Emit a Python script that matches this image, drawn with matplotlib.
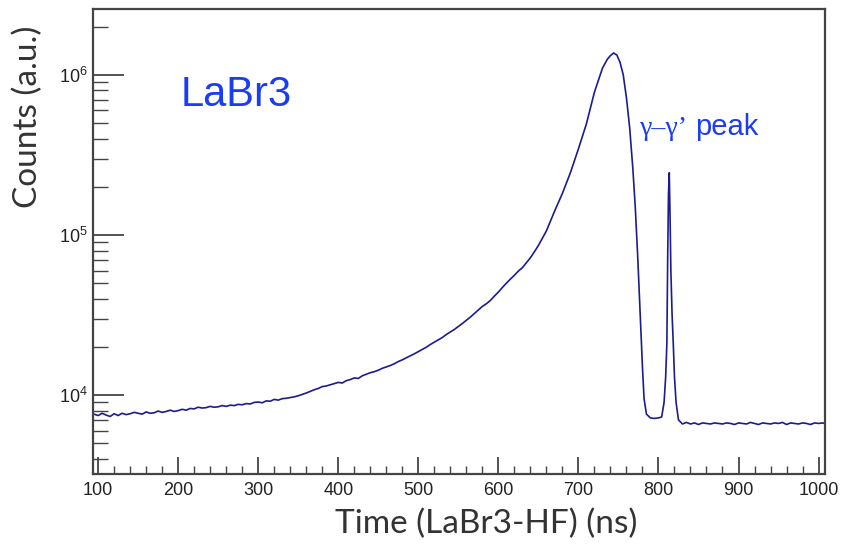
import numpy as np
import matplotlib
matplotlib.use("Agg")
import matplotlib.pyplot as plt
from matplotlib.ticker import LogLocator, MultipleLocator, NullFormatter

# time (ns) and counts
time_ns = [95, 100, 105, 110, 115, 120, 125, 130, 135, 140, 145, 150, 155, 160, 165, 170,
           175, 180, 185, 190, 195, 200, 205, 210, 215, 220, 225, 230, 235, 240, 245, 250,
           255, 260, 265, 270, 275, 280, 285, 290, 295, 300, 305, 310, 315, 320, 325, 330,
           335, 340, 345, 350, 355, 360, 365, 370, 375, 380, 385, 390, 395, 400, 405, 410,
           415, 420, 425, 430, 435, 440, 445, 450, 455, 460, 465, 470, 475, 480, 485, 490,
           495, 500, 505, 510, 515, 520, 525, 530, 535, 540, 545, 550, 555, 560, 565, 570,
           575, 580, 585, 590, 595, 600, 605, 610, 615, 620, 625, 630, 635, 640, 645, 650,
           660, 670, 680, 690, 700, 710, 720, 730, 736, 740,
           744, 748, 752, 756, 760, 764, 768, 771, 774, 777, 780, 782, 785, 790,
           795, 800, 804, 807, 809, 810.5, 811.5, 812.5, 813.5, 814.5, 815.5, 817,
           818.5, 820, 822, 825, 830, 835, 840, 845, 850, 855, 860, 865, 870, 875,
           880, 885, 890, 895, 900, 905, 910, 915, 920, 925, 930, 935, 940, 945,
           950, 955, 960, 965, 970, 975, 980, 985, 990, 995, 1000, 1005, 1008]
counts = [7600, 7450, 7700, 7500, 7350, 7650, 7450, 7700, 7550, 7650, 7800, 7700, 7600, 7850, 7700, 7750,
          7950, 7800, 7900, 8050, 7900, 8000, 8150, 8050, 8250, 8200, 8400, 8300, 8350, 8500, 8400, 8450,
          8600, 8500, 8650, 8600, 8750, 8700, 8850, 8800, 9000, 9050, 8950, 9200, 9150, 9400, 9300, 9500,
          9550, 9650, 9750, 9900, 10100, 10300, 10550, 10800, 11000, 11300, 11400, 11600, 11800, 12000, 11900, 12300,
          12500, 12800, 12700, 13200, 13500, 13800, 14000, 14300, 14700, 15000, 15300, 15700, 16200, 16600, 17100, 17600,
          18100, 18700, 19300, 19900, 20700, 21400, 22100, 22900, 23900, 24800, 25700, 26800, 28000, 29300, 30700, 32300,
          34000, 35800, 37200, 39000, 41500, 44000, 47000, 50000, 53000, 56000, 59500, 62500, 67000, 72000, 78500, 86000,
          106000, 140000, 182000, 245000, 345000, 495000, 780000, 1100000, 1250000, 1320000,
          1370000, 1330000, 1200000, 1000000, 720000, 470000, 260000, 150000, 75000, 33000, 15000, 9500, 7600, 7200,
          7150, 7200, 7300, 9000, 13000, 21000, 70000, 180000, 245000, 130000, 60000, 32000,
          21000, 13000, 9000, 7000, 6600, 6750, 6600, 6700, 6550, 6700, 6650, 6600, 6700, 6650,
          6600, 6700, 6650, 6550, 6700, 6650, 6600, 6750, 6650, 6550, 6700, 6650, 6600, 6700,
          6650, 6750, 6550, 6700, 6650, 6600, 6700, 6650, 6550, 6700, 6650, 6700, 6650]

xticks = [100, 200, 300, 400, 500, 600, 700, 800, 900, 1000]

line_color = '#1c1c8c'
text_blue = '#1a3cf5'
axis_color = '#444444'

fig = plt.figure(figsize=(8.43, 5.46), dpi=100)
ax = fig.add_axes([0.1107, 0.1317, 0.8679, 0.8518])

ax.plot(time_ns, counts, color=line_color, lw=1.2)

ax.set_yscale('log')
ax.set_xlim(94, 1008)
ax.set_ylim(3210, 2.58e6)

ax.set_xticks(xticks)
ax.xaxis.set_minor_locator(MultipleLocator(20))
ax.yaxis.set_major_locator(LogLocator(base=10))
ax.yaxis.set_minor_locator(LogLocator(base=10, subs=np.arange(2, 10)))
ax.yaxis.set_minor_formatter(NullFormatter())

ax.tick_params(axis='both', which='both', direction='in', color=axis_color,
               top=False, right=False, labelsize=13, labelcolor='#222222')
ax.tick_params(axis='x', which='major', length=12, width=1.3, pad=6)
ax.tick_params(axis='x', which='minor', length=6, width=1.0)
ax.tick_params(axis='y', which='major', length=22, width=1.3, pad=4)
ax.tick_params(axis='y', which='minor', length=11, width=1.0)
for lab in ax.get_xticklabels() + ax.get_yticklabels():
    lab.set_fontfamily('Liberation Sans')

for s in ax.spines.values():
    s.set_color(axis_color)
    s.set_linewidth(1.6)

fig.text(181 / 843, 1 - 106 / 546, 'LaBr3', color=text_blue, fontsize=30,
         family='Liberation Sans', ha='left', va='baseline')
# gamma-gamma label: serif gammas, sans "peak"
fig.text(640 / 843, 1 - 135 / 546, 'γ–γ’', color=text_blue, fontsize=20,
         family='Liberation Serif', ha='left', va='baseline')
fig.text(695 / 843, 1 - 135 / 546, 'peak', color=text_blue, fontsize=21,
         family='Liberation Sans', ha='left', va='baseline')

fig.text(486 / 843, 1 - 524 / 546, 'Time (LaBr3-HF) (ns)', color='#333333',
         fontsize=24, family='Lato', ha='center', va='center')
fig.text(28 / 843, 1 - 117 / 546, 'Counts (a.u.)', color='#333333',
         fontsize=24, family='Lato', ha='center', va='center', rotation=90)

fig.savefig('out.png', dpi=100)
